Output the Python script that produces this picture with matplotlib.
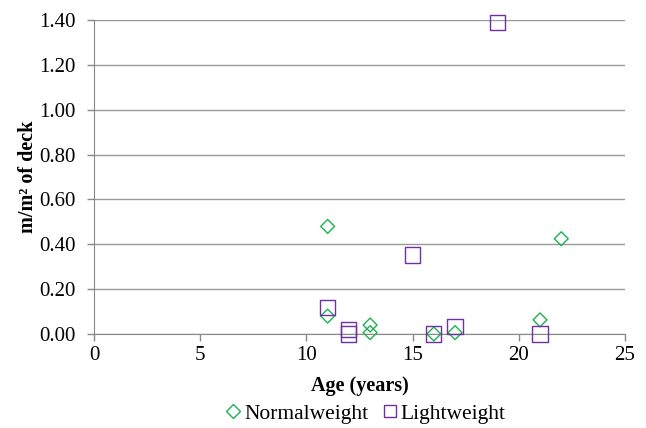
import matplotlib
matplotlib.use('Agg')
import matplotlib.pyplot as plt
from matplotlib.lines import Line2D

plt.rcParams['font.family'] = ['Liberation Serif', 'DejaVu Serif']

# Normalweight
nw_age = [11, 11, 13, 13, 16, 17, 21, 22]
nw_val = [0.48, 0.08, 0.04, 0.006, 0.0, 0.006, 0.063, 0.425]

# Lightweight
lw_age = [11, 12, 12, 15, 16, 17, 19, 21]
lw_val = [0.117, 0.021, 0.0, 0.352, 0.0, 0.034, 1.39, 0.0]

yticks = [0.0, 0.2, 0.4, 0.6, 0.8, 1.0, 1.2, 1.4]
xticks = [0, 5, 10, 15, 20, 25]

fig = plt.figure(figsize=(6.46, 4.28), dpi=100)
ax = fig.add_axes([0.1455, 0.2196, 0.822, 0.7334])

ax.scatter(nw_age, nw_val, marker='D', s=50, facecolors='none',
           edgecolors='#1db150', linewidths=1.0, zorder=3, clip_on=False)
ax.scatter(lw_age, lw_val, marker='s', s=120, facecolors='none',
           edgecolors='#7030a0', linewidths=1.0, zorder=3, clip_on=False)

ax.set_xlim(0, 25)
ax.set_ylim(0, 1.4)
ax.set_xticks(xticks)
ax.set_yticks(yticks)
ax.set_yticklabels(['%.2f' % v for v in yticks])
ax.tick_params(labelsize=15, color='#888888', length=5, width=1)
ax.tick_params(axis='y', pad=8)
ax.yaxis.grid(True, color='#999999', linewidth=1)
ax.set_axisbelow(True)

for s in ['top', 'right']:
    ax.spines[s].set_visible(False)
for s in ['left', 'bottom']:
    ax.spines[s].set_color('#888888')

ax.set_xlabel('Age (years)', fontsize=14.5, fontweight='bold', labelpad=8)
ax.set_ylabel('m/m² of deck', fontsize=14.5, fontweight='bold', labelpad=1)

handles = [
    Line2D([], [], marker='D', linestyle='none', markersize=7, markerfacecolor='none',
           markeredgecolor='#1db150', markeredgewidth=1.0),
    Line2D([], [], marker='s', linestyle='none', markersize=9, markerfacecolor='none',
           markeredgecolor='#7030a0', markeredgewidth=1.0),
]
fig.legend(handles, ['Normalweight', 'Lightweight'], loc='lower center',
           bbox_to_anchor=(0.565, -0.035), ncol=2, frameon=False,
           fontsize=15.5, handletextpad=0.1, handlelength=0.8, columnspacing=0.6)

fig.savefig('out.png', dpi=100)
